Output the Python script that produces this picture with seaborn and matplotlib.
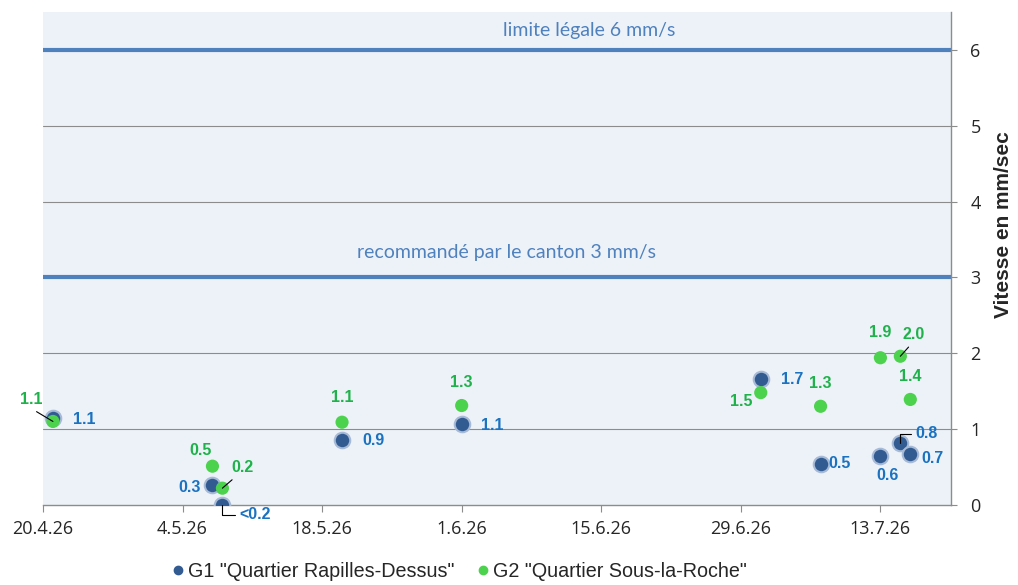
import pandas as pd
import seaborn as sns
import matplotlib.pyplot as plt
from matplotlib.lines import Line2D

sns.set_style("white")
plt.rcParams['font.family'] = ['Liberation Sans', 'DejaVu Sans']

# --- data ---
dates_g1 = ["2026-04-21", "2026-05-07", "2026-05-08", "2026-05-20", "2026-06-01",
            "2026-07-01", "2026-07-07", "2026-07-13", "2026-07-15", "2026-07-16"]
values_g1 = [1.15, 0.26, 0.0, 0.86, 1.06, 1.66, 0.54, 0.64, 0.82, 0.67]
labels_g1 = ["1.1", "0.3", "<0.2", "0.9", "1.1", "1.7", "0.5", "0.6", "0.8", "0.7"]

dates_g2 = ["2026-04-21", "2026-05-07", "2026-05-08", "2026-05-20", "2026-06-01",
            "2026-07-01", "2026-07-07", "2026-07-13", "2026-07-15", "2026-07-16"]
values_g2 = [1.10, 0.51, 0.22, 1.09, 1.31, 1.48, 1.30, 1.94, 1.96, 1.39]
labels_g2 = ["1.1", "0.5", "0.2", "1.1", "1.3", "1.5", "1.3", "1.9", "2.0", "1.4"]

series_names = ['G1 "Quartier Rapilles-Dessus"', 'G2 "Quartier Sous-la-Roche"']
tick_dates = ["2026-04-20", "2026-05-04", "2026-05-18", "2026-06-01",
              "2026-06-15", "2026-06-29", "2026-07-13"]
tick_labels = ["20.4.26", "4.5.26", "18.5.26", "1.6.26", "15.6.26", "29.6.26", "13.7.26"]
limits = [6, 3]
limit_texts = ["limite légale 6 mm/s", "recommandé par le canton 3 mm/s"]

# label offsets in pixels (dx, dy) and whether a leader line is drawn
off_g1 = [(31, -2), (-23, -2), (33, -10), (31, -1), (31, -1),
          (31, -1), (19, 0), (7, -19), (26, 9), (22, -4)]
lead_g1 = [False, False, True, False, False, False, False, False, True, False]
off_g2 = [(-22, 22), (-12, 16), (20, 21), (0, 25), (0, 23),
          (-20, -9), (0, 23), (0, 25), (13, 22), (0, 23)]
lead_g2 = [True, False, True, False, False, False, False, False, True, False]
relpos_g2 = [(0.4, 0.0), None, (0.3, 0.0), None, None,
             None, None, None, (0.5, 0.0), None]

df1 = pd.DataFrame({"date": pd.to_datetime(dates_g1), "v": values_g1})
df2 = pd.DataFrame({"date": pd.to_datetime(dates_g2), "v": values_g2})

c_g1 = "#325b92"
c_g2 = "#4cd24c"
c_lab1 = "#1a72c0"
c_lab2 = "#1fb24a"
c_line = "#4f81bd"
c_grid = "#8c8c8c"

fig = plt.figure(figsize=(10.18, 5.85), dpi=100)
ax = fig.add_axes([0.0422, 0.137, 0.892, 0.8425])
ax.set_facecolor("#edf2f9")

for y in range(1, 7):
    ax.axhline(y, color=c_grid, lw=0.8, zorder=1)
for y in limits:
    ax.axhline(y, color=c_line, lw=3.0, zorder=2)

sns.scatterplot(data=df1, x="date", y="v", ax=ax, color=c_g1, s=125,
                edgecolor="#a7bad6", linewidth=1.5, zorder=4)
sns.scatterplot(data=df2, x="date", y="v", ax=ax, color=c_g2, s=90,
                edgecolor="none", linewidth=0, zorder=5)

for d, v, lab, off, lead in zip(df1["date"], values_g1, labels_g1, off_g1, lead_g1):
    ap = None
    if lead:
        ap = dict(arrowstyle="-", color="black", lw=0.8, shrinkA=1, shrinkB=0,
                  connectionstyle="angle,angleA=0,angleB=90,rad=0")
    ax.annotate(lab, (d, v), xytext=off, textcoords="offset pixels",
                ha="center", va="center", fontsize=11.5, fontweight="bold",
                color=c_lab1, arrowprops=ap, zorder=6)

for d, v, lab, off, lead, rp in zip(df2["date"], values_g2, labels_g2, off_g2,
                                    lead_g2, relpos_g2):
    ap = None
    if lead:
        ap = dict(arrowstyle="-", color="black", lw=0.8, shrinkA=2, shrinkB=0,
                  relpos=rp)
    ax.annotate(lab, (d, v), xytext=off, textcoords="offset pixels",
                ha="center", va="center", fontsize=11.5, fontweight="bold",
                color=c_lab2, arrowprops=ap, zorder=6)

ax.text(0.602, 6.25, limit_texts[0], ha="center", va="center", color=c_line,
        fontsize=14, family=["Lato", "DejaVu Sans"], transform=ax.get_yaxis_transform())
ax.text(0.511, 3.33, limit_texts[1], ha="center", va="center", color=c_line,
        fontsize=14, family=["Lato", "DejaVu Sans"], transform=ax.get_yaxis_transform())

ax.set_xlim(pd.Timestamp("2026-04-20"), pd.Timestamp("2026-07-20 02:00"))
ax.set_ylim(0, 6.5)
ax.set_xticks(pd.to_datetime(tick_dates))
ax.set_xticklabels(tick_labels)
ax.set_yticks(range(0, 7))

ax.yaxis.tick_right()
ax.yaxis.set_label_position("right")
ax.set_xlabel("")
ax.set_ylabel("Vitesse en mm/sec", fontsize=15, fontweight="bold")
ax.yaxis.set_label_coords(1.047, 0.568)

for s in ["top", "left"]:
    ax.spines[s].set_visible(False)
for s in ["bottom", "right"]:
    ax.spines[s].set_color(c_grid)
    ax.spines[s].set_linewidth(1.0)
ax.tick_params(axis="x", direction="out", length=5, color=c_grid, labelsize=13,
               pad=6, bottom=True)
ax.tick_params(axis="y", direction="out", length=4, color=c_grid, labelsize=13,
               pad=10, right=True, left=False)
for t in ax.get_xticklabels() + ax.get_yticklabels():
    t.set_family(["Open Sans", "DejaVu Sans"])

handles = [Line2D([], [], marker="o", ls="", color=c_g1, markersize=6),
           Line2D([], [], marker="o", ls="", color=c_g2, markersize=6)]
fig.legend(handles, series_names, loc="center", bbox_to_anchor=(0.4514, 0.023),
           ncol=2, frameon=False, fontsize=14.2, handletextpad=0.25,
           handlelength=0.6, columnspacing=1.1)

fig.savefig("out.png", dpi=100)
